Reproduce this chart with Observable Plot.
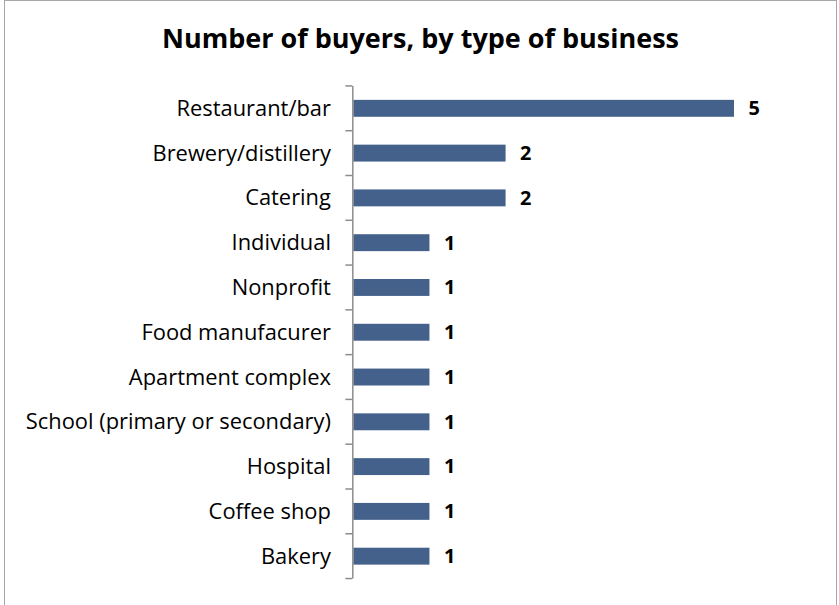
<!DOCTYPE html>
<html>
<head>
<meta charset="utf-8">
<script src="https://cdn.jsdelivr.net/npm/d3@7"></script>
<script src="https://cdn.jsdelivr.net/npm/@observablehq/plot@0.6"></script>
<style>
  html, body { margin: 0; padding: 0; background: #fff; }
  #frame {
    position: absolute; left: 4px; top: 0; width: 833px; height: 610px;
    border: 1px solid #a6a6a6; box-sizing: border-box; background: #fff;
  }
  #title {
    position: absolute; left: -4px; top: 0; width: 839px; height: 70px;
    text-align: center; font-family: "Open Sans", sans-serif; font-weight: 700;
    font-size: 27px; line-height: 28px; padding-top: 23px; box-sizing: border-box; color: #000;
  }
  #chart { position: absolute; left: -4px; top: 70px; }
</style>
</head>
<body>
<div id="frame">
  <div id="title">Number of buyers, by type of business</div>
  <div id="chart"></div>
</div>
<script>
// Buyers by business type, top to bottom as listed
const categories = [
  "Restaurant/bar",
  "Brewery/distillery",
  "Catering",
  "Individual",
  "Nonprofit",
  "Food manufacurer",
  "Apartment complex",
  "School (primary or secondary)",
  "Hospital",
  "Coffee shop",
  "Bakery"
];
const buyers = [5, 2, 2, 1, 1, 1, 1, 1, 1, 1, 1];

const rows = categories.map((c, i) => ({category: c, value: buyers[i]}));

const plot = Plot.plot({
  width: 839,
  height: 535,
  marginLeft: 354,
  marginRight: 26,
  marginTop: 15,
  marginBottom: 25,
  style: {fontFamily: "'Open Sans', sans-serif", fontSize: "22px", color: "#000", background: "transparent"},
  x: {domain: [0, 6], axis: null},
  y: {domain: categories, padding: 0, axis: null},
  marks: [
    Plot.barX(rows, {
      y: "category", x: "value", fill: "#44618b",
      insetTop: 14, insetBottom: 14
    }),
    // vertical axis line
    Plot.ruleX([0], {stroke: "#8c8c8c", strokeWidth: 1.5, dx: -1}),
    Plot.text(categories, {
      y: d => d, frameAnchor: "left", text: d => d,
      textAnchor: "end", dx: -23, fontSize: 22, fill: "#000"
    }),
    Plot.text(rows, {
      y: "category", x: "value", text: d => String(d.value),
      textAnchor: "start", dx: 14, fontWeight: 700, fontSize: 20, fill: "#000"
    })
  ]
});

// Axis ticks at each band edge
const svg = d3.select(plot);
const yScale = plot.scale("y");
const edges = categories.map(c => yScale.apply(c));
edges.push(edges[edges.length - 1] + yScale.step);
svg.append("g")
  .selectAll("line")
  .data(edges)
  .join("line")
  .attr("x1", 346).attr("x2", 353)
  .attr("y1", d => d).attr("y2", d => d)
  .attr("stroke", "#8c8c8c").attr("stroke-width", 1.5);

document.getElementById("chart").appendChild(plot);
</script>
</body>
</html>
